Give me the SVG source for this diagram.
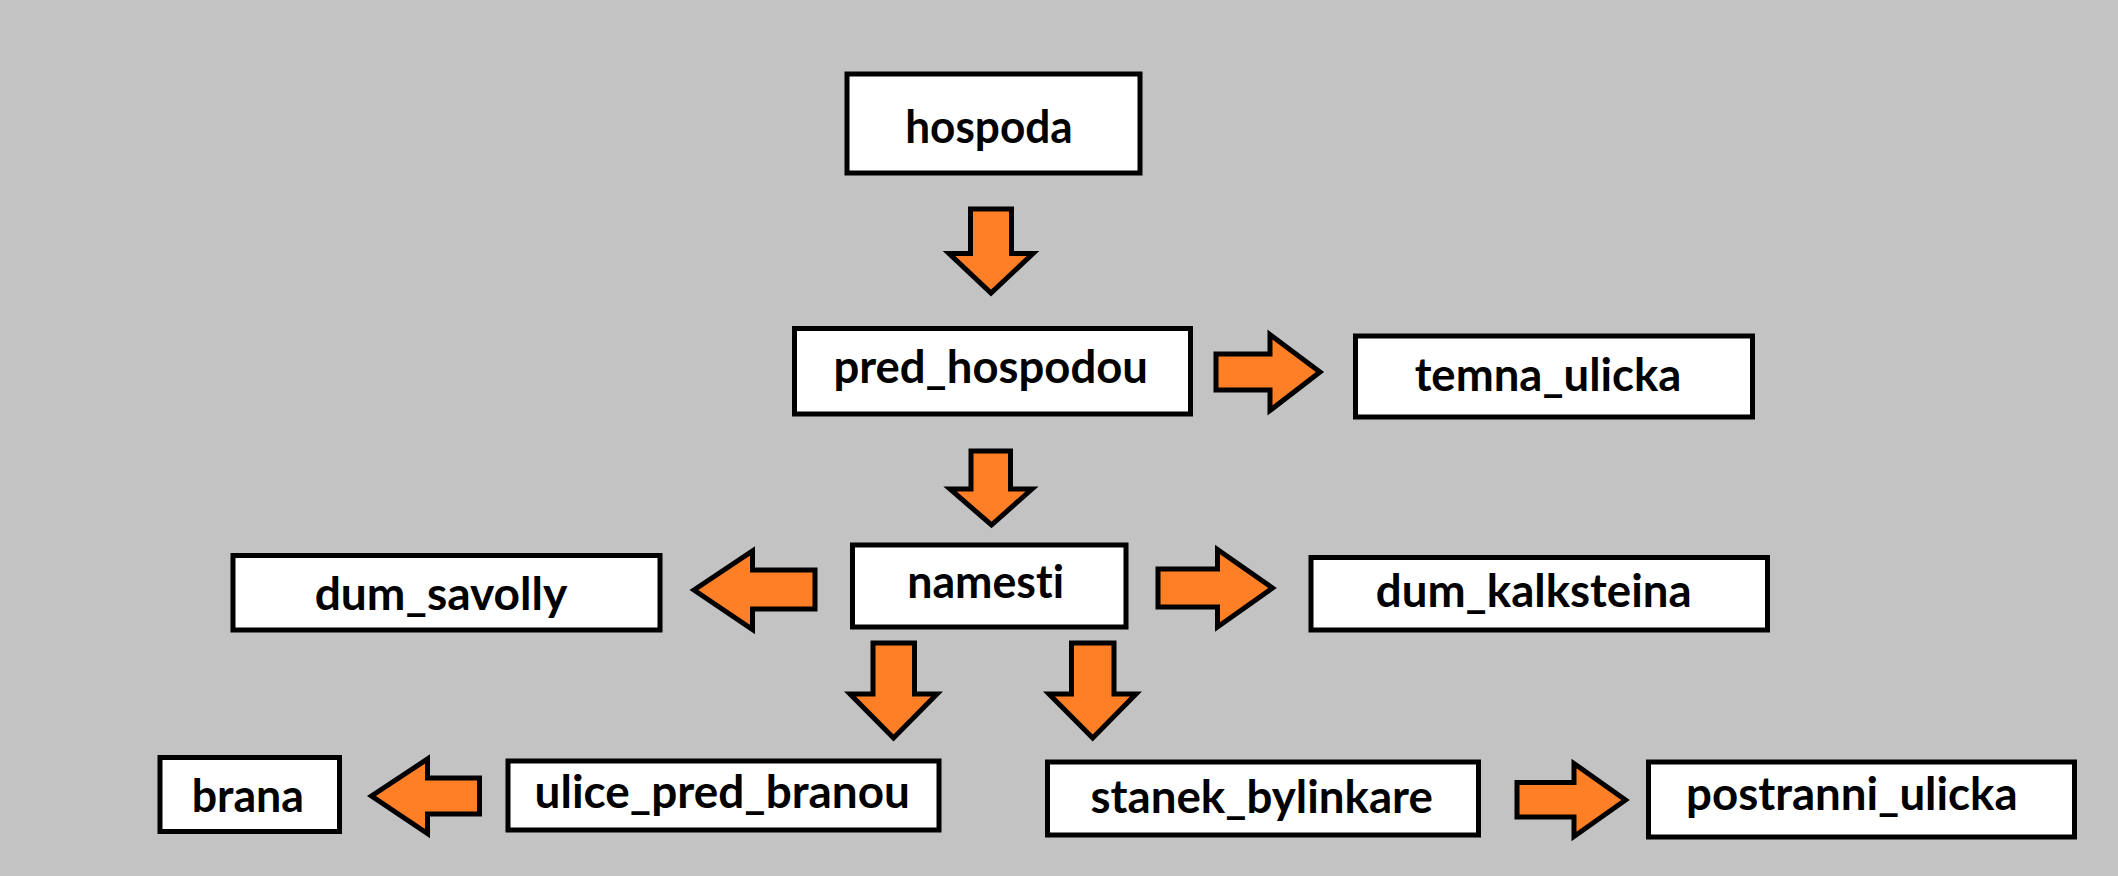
<svg xmlns="http://www.w3.org/2000/svg" width="2118" height="876" viewBox="0 0 2118 876">
<style>
.box{fill:#ffffff;stroke:#000000;stroke-width:5}
.lbl{font-family:Lato,"Open Sans","Liberation Sans",sans-serif;font-weight:bold;font-size:45px;fill:#000000;text-anchor:middle;font-variant-ligatures:none;font-feature-settings:"liga" 0,"clig" 0}
.arr{fill:#ff7f27;stroke:#000000;stroke-width:5;stroke-linejoin:miter}
</style>
<rect x="0" y="0" width="2118" height="876" fill="#c3c3c3"/>
<g id="connectors">
<path class="arr" d="M970.5,209 L1011.5,209 L1011.5,253.5 L1033,253.5 L991,293 L949,253.5 L970.5,253.5 Z"/>
<path class="arr" d="M971,451 L1010.5,451 L1010.5,489 L1032,489 L991.5,525 L950,489 L971,489 Z"/>
<path class="arr" d="M1216,354 L1270,354 L1270,334.5 L1320,372 L1270,410.5 L1270,390 L1216,390 Z"/>
<path class="arr" d="M815,570 L752.5,570 L752.5,551 L694,590 L752.5,629.5 L752.5,609 L815,609 Z"/>
<path class="arr" d="M1158,569 L1217.5,569 L1217.5,549.5 L1272.5,588 L1217.5,627 L1217.5,607 L1158,607 Z"/>
<path class="arr" d="M873,643 L914.5,643 L914.5,694 L937,694 L893.5,738 L850,694 L873,694 Z"/>
<path class="arr" d="M1071.5,643 L1114,643 L1114,694 L1136,694 L1092.7,738 L1049,694 L1071.5,694 Z"/>
<path class="arr" d="M479.5,778 L427.5,778 L427.5,759 L371.5,796 L427.5,833.5 L427.5,814 L479.5,814 Z"/>
<path class="arr" d="M1517,782.5 L1574,782.5 L1574,763.5 L1625.5,800 L1574,836.5 L1574,817 L1517,817 Z"/>
</g>
<g id="hospoda"><rect class="box" x="847" y="74" width="293" height="99"/><text class="lbl" x="989" y="143" textLength="167.6" lengthAdjust="spacingAndGlyphs">hospoda</text></g>
<g id="pred_hospodou"><rect class="box" x="794.5" y="328.5" width="396" height="85.5"/><text class="lbl" x="990.7" y="383" textLength="314.6" lengthAdjust="spacingAndGlyphs">pred_hospodou</text></g>
<g id="temna_ulicka"><rect class="box" x="1355.5" y="336" width="397" height="81"/><text class="lbl" x="1548" y="390.7" textLength="266.7" lengthAdjust="spacingAndGlyphs">temna_ulicka</text></g>
<g id="namesti"><rect class="box" x="852.5" y="545" width="273.5" height="82"/><text class="lbl" x="985.6" y="598.3" textLength="156.8" lengthAdjust="spacingAndGlyphs">namesti</text></g>
<g id="dum_savolly"><rect class="box" x="233" y="555.5" width="427" height="74.5"/><text class="lbl" x="441" y="610" textLength="252.6" lengthAdjust="spacingAndGlyphs">dum_savolly</text></g>
<g id="dum_kalksteina"><rect class="box" x="1311" y="557.5" width="456.5" height="72.5"/><text class="lbl" x="1533.7" y="607.3" textLength="315.8" lengthAdjust="spacingAndGlyphs">dum_kalksteina</text></g>
<g id="brana"><rect class="box" x="160" y="757.5" width="179.5" height="74"/><text class="lbl" x="247.8" y="811.7" textLength="112.3" lengthAdjust="spacingAndGlyphs">brana</text></g>
<g id="ulice_pred_branou"><rect class="box" x="508" y="761" width="431" height="69"/><text class="lbl" x="722.3" y="808.3" textLength="375.4" lengthAdjust="spacingAndGlyphs">ulice_pred_branou</text></g>
<g id="stanek_bylinkare"><rect class="box" x="1047.5" y="762" width="431" height="73"/><text class="lbl" x="1261.7" y="813.3" textLength="342.3" lengthAdjust="spacingAndGlyphs">stanek_bylinkare</text></g>
<g id="postranni_ulicka"><rect class="box" x="1648.5" y="762" width="426" height="75"/><text class="lbl" x="1851.8" y="810" textLength="331.5" lengthAdjust="spacingAndGlyphs">postranni_ulicka</text></g>
</svg>
